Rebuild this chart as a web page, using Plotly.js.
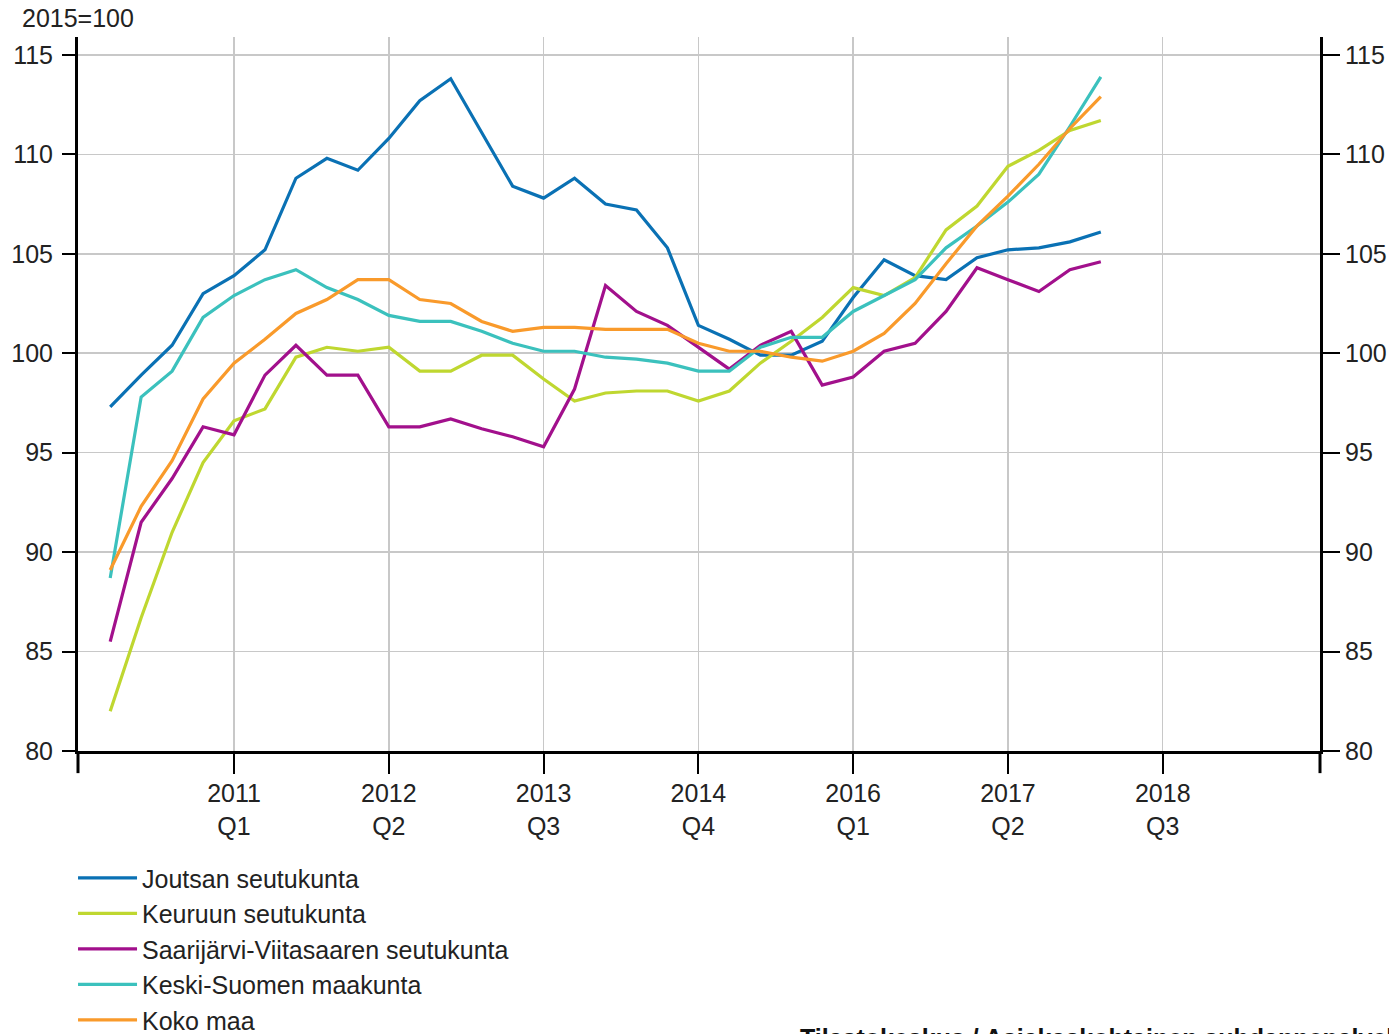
<!DOCTYPE html>
<html>
<head>
<meta charset="utf-8">
<script src="https://cdn.plot.ly/plotly-3.0.1.min.js"></script>
<style>
html,body{margin:0;padding:0;background:#fff;overflow:hidden;}
#chart{width:1389px;height:1034px;}
</style>
</head>
<body>
<div id="chart"></div>
<script>
// Quarters 2010Q1 ... 2018Q1 (index 0..32)
const quarters = ["2010Q1","2010Q2","2010Q3","2010Q4","2011Q1","2011Q2","2011Q3","2011Q4",
  "2012Q1","2012Q2","2012Q3","2012Q4","2013Q1","2013Q2","2013Q3","2013Q4",
  "2014Q1","2014Q2","2014Q3","2014Q4","2015Q1","2015Q2","2015Q3","2015Q4",
  "2016Q1","2016Q2","2016Q3","2016Q4","2017Q1","2017Q2","2017Q3","2017Q4","2018Q1"];

const joutsa = [97.3, 98.9, 100.4, 103.0, 103.9, 105.2, 108.8, 109.8, 109.2, 110.8, 112.7, 113.8, 111.1, 108.4, 107.8, 108.8, 107.5, 107.2, 105.3, 101.4, 100.7, 99.9, 99.9, 100.6, 102.8, 104.7, 103.9, 103.7, 104.8, 105.2, 105.3, 105.6, 106.1];
const keuruu = [82.0, 86.7, 91.0, 94.5, 96.6, 97.2, 99.8, 100.3, 100.1, 100.3, 99.1, 99.1, 99.9, 99.9, 98.7, 97.6, 98.0, 98.1, 98.1, 97.6, 98.1, 99.5, 100.6, 101.8, 103.3, 102.9, 103.8, 106.2, 107.4, 109.4, 110.2, 111.2, 111.7];
const saarijarvi = [85.5, 91.5, 93.7, 96.3, 95.9, 98.9, 100.4, 98.9, 98.9, 96.3, 96.3, 96.7, 96.2, 95.8, 95.3, 98.2, 103.4, 102.1, 101.4, 100.3, 99.2, 100.4, 101.1, 98.4, 98.8, 100.1, 100.5, 102.1, 104.3, 103.7, 103.1, 104.2, 104.6];
const keskiSuomi = [88.7, 97.8, 99.1, 101.8, 102.9, 103.7, 104.2, 103.3, 102.7, 101.9, 101.6, 101.6, 101.1, 100.5, 100.1, 100.1, 99.8, 99.7, 99.5, 99.1, 99.1, 100.3, 100.8, 100.8, 102.1, 102.9, 103.7, 105.3, 106.4, 107.6, 109.0, 111.4, 113.9];
const kokoMaa = [89.1, 92.3, 94.6, 97.7, 99.5, 100.7, 102.0, 102.7, 103.7, 103.7, 102.7, 102.5, 101.6, 101.1, 101.3, 101.3, 101.2, 101.2, 101.2, 100.5, 100.1, 100.1, 99.8, 99.6, 100.1, 101.0, 102.5, 104.5, 106.4, 107.9, 109.5, 111.3, 112.9];

const seriesNames = ["Joutsan seutukunta","Keuruun seutukunta","Saarijärvi-Viitasaaren seutukunta","Keski-Suomen maakunta","Koko maa"];
const seriesColors = ["#0a71b4","#bfd730","#a2108c","#3bc1bd","#f99a2b"];
const seriesData = [joutsa, keuruu, saarijarvi, keskiSuomi, kokoMaa];

const tickIdx = [4, 9, 14, 19, 24, 29, 34];
const tickText = ["2011<br>Q1","2012<br>Q2","2013<br>Q3","2014<br>Q4","2016<br>Q1","2017<br>Q2","2018<br>Q3"];

const xIdx = quarters.map((q, i) => i);

const FONT = "Liberation Sans, Arial, sans-serif";
const traces = seriesData.map((d, k) => ({
  type: "scatter", mode: "lines",
  x: xIdx, y: d, name: seriesNames[k],
  text: quarters, hoverinfo: "text+y+name",
  line: {color: seriesColors[k], width: 3.2}
}));
// empty trace so that the right-hand axis is drawn
traces.push({type: "scatter", mode: "lines", x: [], y: [], yaxis: "y2", showlegend: false, hoverinfo: "skip"});

const yRange = [80, 115.9];
const layout = {
  width: 1389, height: 1034,
  margin: {l: 78, r: 69, t: 37, b: 283, autoexpand: false},
  paper_bgcolor: "#fff", plot_bgcolor: "#fff",
  font: {family: FONT, size: 25, color: "#222"},
  showlegend: true,
  legend: {
    x: -0.004, y: -0.1457, xanchor: "left", yanchor: "top",
    font: {family: FONT, size: 25, color: "#222"},
    tracegroupgap: 0, itemwidth: 59, bgcolor: "rgba(0,0,0,0)"
  },
  xaxis: {
    range: [-1.04, 39.08], tickmode: "array", tickvals: tickIdx, ticktext: tickText,
    showgrid: true, gridcolor: "#c8c8c8", gridwidth: 1.5,
    showline: true, linecolor: "#000", linewidth: 3,
    ticks: "outside", ticklen: 20, tickwidth: 2, tickcolor: "#000",
    ticklabelstandoff: -2,
    zeroline: false, fixedrange: true,
    tickfont: {family: FONT, size: 25, color: "#222"}
  },
  yaxis: {
    range: yRange, tickmode: "linear", tick0: 80, dtick: 5,
    showgrid: true, gridcolor: "#c8c8c8", gridwidth: 1.5,
    showline: true, linecolor: "#000", linewidth: 3,
    ticks: "outside", ticklen: 13, tickwidth: 2, tickcolor: "#000",
    ticklabelstandoff: 4,
    zeroline: false, fixedrange: true,
    tickfont: {family: FONT, size: 25, color: "#222"}
  },
  yaxis2: {
    range: yRange, tickmode: "linear", tick0: 80, dtick: 5,
    overlaying: "y", side: "right", anchor: "x",
    showgrid: false, showline: true, linecolor: "#000", linewidth: 3,
    ticks: "outside", ticklen: 17, tickwidth: 2, tickcolor: "#000",
    zeroline: false, fixedrange: true,
    tickfont: {family: FONT, size: 25, color: "#222"}
  },
  shapes: [
    {type: "line", xref: "paper", yref: "paper", x0: 0, x1: 0, y0: 0, y1: -0.031, line: {color: "#000", width: 3}},
    {type: "line", xref: "paper", yref: "paper", x0: 1, x1: 1, y0: 0, y1: -0.031, line: {color: "#000", width: 3}}
  ],
  annotations: [
    {text: "2015=100", xref: "paper", yref: "paper", x: -0.047, y: 1.027, xanchor: "left", yanchor: "middle",
     showarrow: false, font: {family: FONT, size: 25, color: "#222"}},
    {text: "<b>Tilastokeskus / Asiakaskohtainen suhdannepalvelu</b>", xref: "paper", yref: "paper",
     x: 0.5797, y: -0.3796, xanchor: "left", yanchor: "top",
     showarrow: false, font: {family: FONT, size: 25, color: "#111"}}
  ]
};

Plotly.newPlot("chart", traces, layout, {displayModeBar: false, staticPlot: true});
</script>
</body>
</html>
